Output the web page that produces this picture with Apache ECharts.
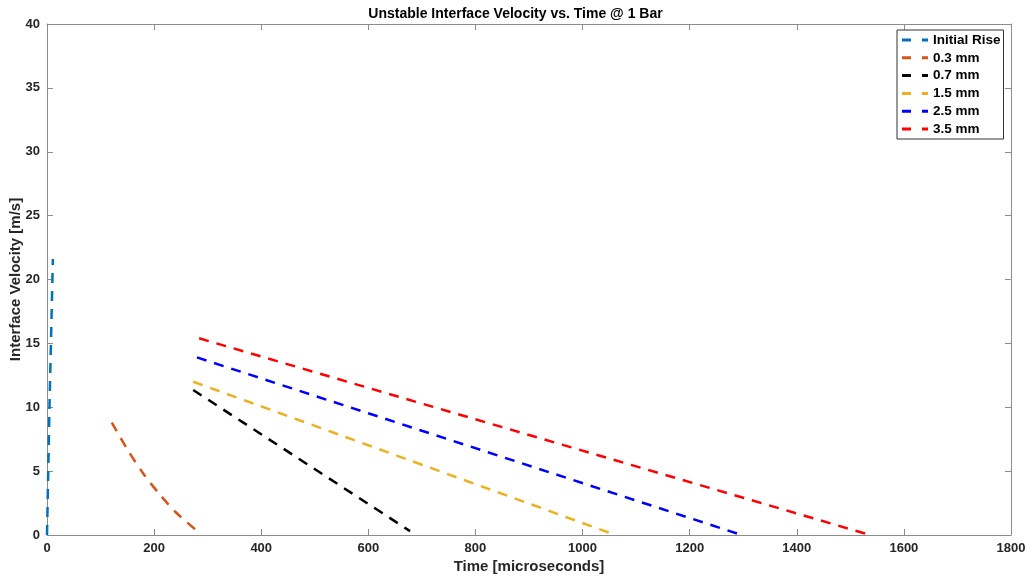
<!DOCTYPE html>
<html><head><meta charset="utf-8">
<script src="https://cdn.jsdelivr.net/npm/echarts@6/dist/echarts.min.js"></script>
<style>html,body{margin:0;padding:0;background:#fff}#c{width:1031px;height:579px}</style>
</head><body><div id="c"></div>
<script>
const seriesNames = ['Initial Rise', '0.3 mm', '0.7 mm', '1.5 mm', '2.5 mm', '3.5 mm'];
const seriesColors = ['#0072BD', '#D95319', '#000000', '#EDB120', '#0000FF', '#FF0000'];
const initialRise = [[0, 0], [5, 10.8], [11, 21.6]];
const mm03 = [[121, 8.8], [150, 6.7], [180, 4.8], [210, 3.2], [240, 1.8], [278, 0.4]];
const mm07 = [[273, 11.35], [678, 0.3]];
const mm15 = [[273, 12.0], [1055, 0.1]];
const mm25 = [[280, 13.9], [1290, 0.1]];
const mm35 = [[284, 15.4], [1529, 0.1]];
const seriesData = [initialRise, mm03, mm07, mm15, mm25, mm35];
const xTicks = {min: 0, max: 1800, interval: 200};
const yTicks = {min: 0, max: 40, interval: 5};

const font = 'Liberation Sans, Arial, sans-serif';
const axisGray = '#8c8c8c';
const chart = echarts.init(document.getElementById('c'));
const baseAxis = {
  axisLine: {show: true, onZero: false, lineStyle: {color: axisGray, width: 1}},
  axisTick: {show: true, inside: true, length: 6, lineStyle: {color: axisGray}},
  splitLine: {show: false}
};
const lbl = {fontFamily: font, fontSize: 13, fontWeight: 'bold', color: '#262626', margin: 7,
  formatter: v => String(v)};
const nameStyle = {fontFamily: font, fontSize: 15, fontWeight: 'bold', color: '#262626'};
chart.setOption({
  animation: false,
  backgroundColor: '#fff',
  title: {text: 'Unstable Interface Velocity vs. Time @ 1 Bar', left: 'center', top: 2,
    textStyle: {fontFamily: font, fontSize: 14, fontWeight: 'bold', color: '#000'}},
  grid: {left: 47, right: 20, top: 24, bottom: 44, containLabel: false, outerBoundsMode: 'none'},
  legend: {
    orient: 'vertical', left: 897, top: 30,
    backgroundColor: '#fff', borderColor: '#333', borderWidth: 1, padding: [3, 3, 3, 5],
    itemGap: 3.8, itemWidth: 26, itemHeight: 14,
    textStyle: {fontFamily: font, fontSize: 13.5, fontWeight: 'bold', color: '#000'},
    data: seriesNames.map(n => ({name: n, icon: 'path://M0,0 L9,0 L9,3 L0,3 Z M20,0 L26,0 L26,3 L20,3 Z'}))
  },
  xAxis: [
    Object.assign({}, baseAxis, {type: 'value', min: xTicks.min, max: xTicks.max, interval: xTicks.interval,
      name: 'Time [microseconds]', nameLocation: 'middle', nameGap: 24, nameMoveOverlap: false,
      nameTextStyle: nameStyle, axisLabel: lbl}),
    Object.assign({}, baseAxis, {type: 'value', position: 'top', min: xTicks.min, max: xTicks.max, interval: xTicks.interval,
      axisLabel: {show: false}})
  ],
  yAxis: [
    Object.assign({}, baseAxis, {type: 'value', min: yTicks.min, max: yTicks.max, interval: yTicks.interval,
      name: 'Interface Velocity [m/s]', nameLocation: 'middle', nameGap: 24, nameMoveOverlap: false,
      nameTextStyle: nameStyle, axisLabel: lbl}),
    Object.assign({}, baseAxis, {type: 'value', position: 'right', min: yTicks.min, max: yTicks.max, interval: yTicks.interval,
      axisLabel: {show: false}})
  ],
  series: seriesNames.map((n, i) => ({
    name: n, type: 'line', data: seriesData[i], smooth: i === 1 ? 0.3 : false,
    showSymbol: false, symbol: 'none', xAxisIndex: 0, yAxisIndex: 0,
    itemStyle: {color: seriesColors[i]},
    lineStyle: {color: seriesColors[i], width: 2.5, type: [10, 8]}
  }))
});
</script></body></html>
